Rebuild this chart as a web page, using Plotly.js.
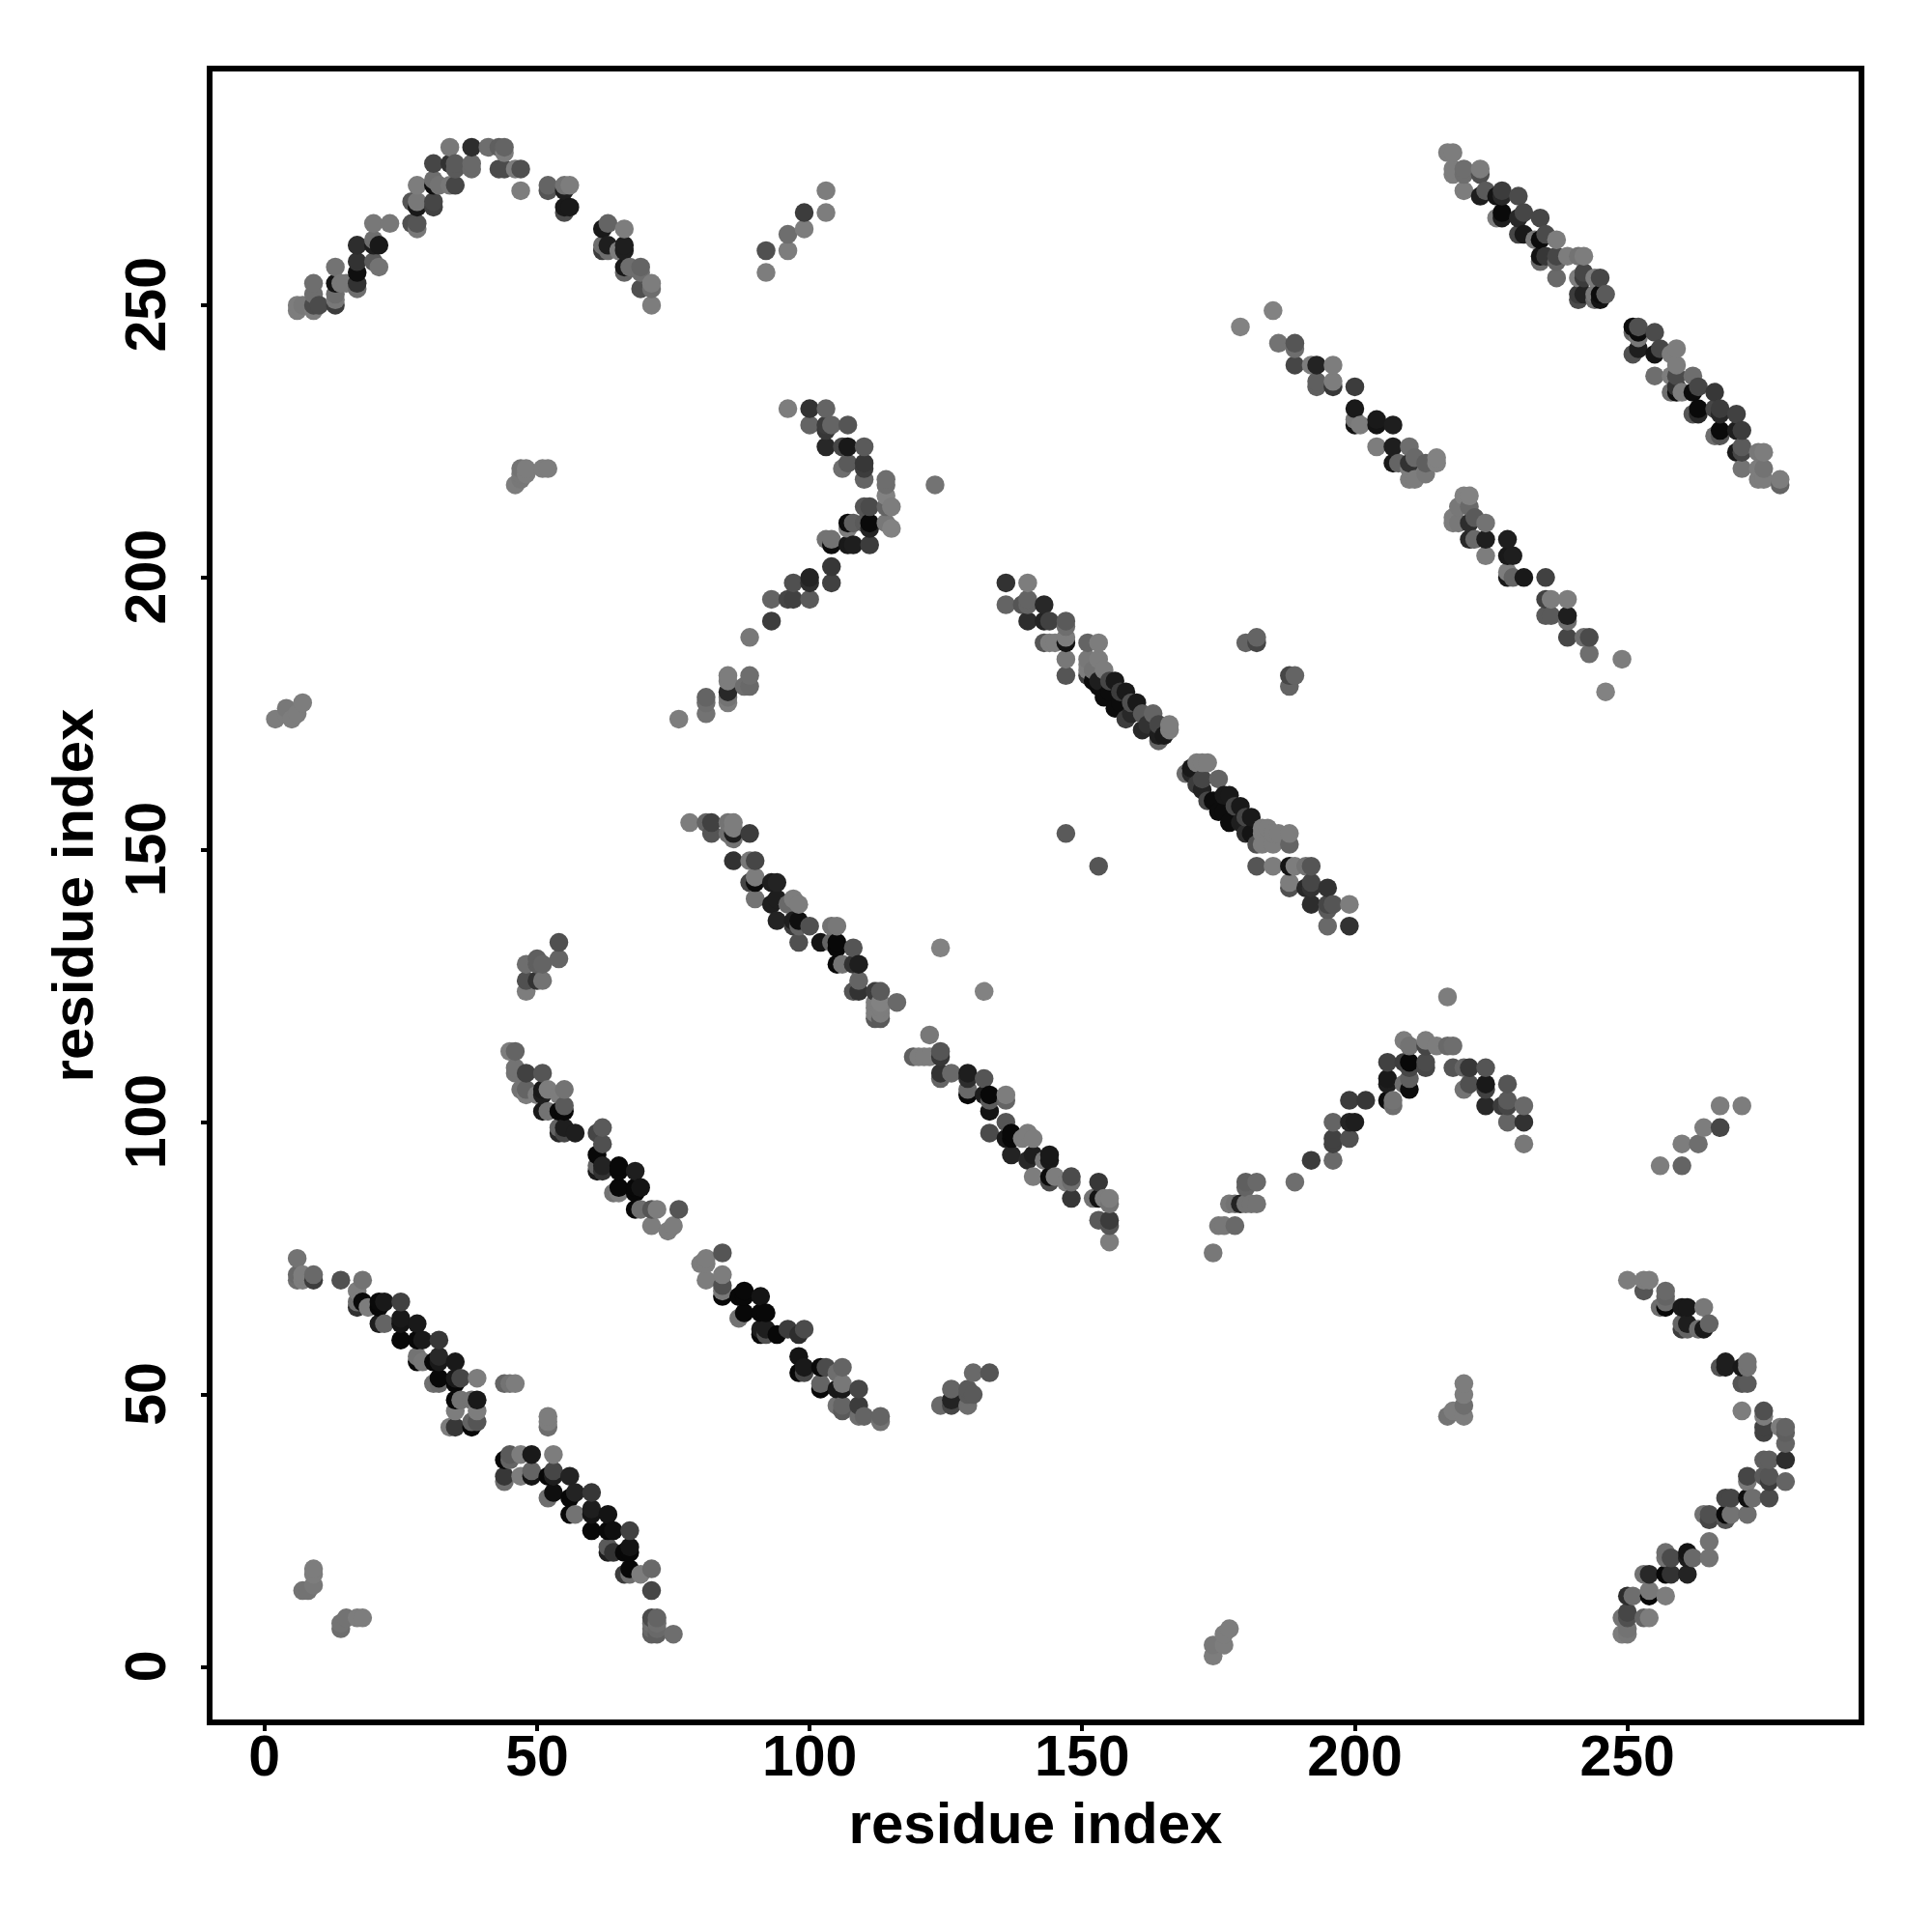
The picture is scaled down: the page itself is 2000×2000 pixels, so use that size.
<!DOCTYPE html>
<html><head><meta charset="utf-8">
<script src="https://cdn.plot.ly/plotly-3.0.1.min.js"></script>
<style>html,body{margin:0;padding:0;background:#fff}</style></head>
<body><div id="chart" style="width:2000px;height:2000px"></div>
<script>
const tickValues=[0,50,100,150,200,250];
const axisLabel="residue index";
// each entry: residue x, residue y, grey level
const archTopLeft=[[6,250,125],[6,249,125],[7,250,120],[9,254,110],[9,252,110],[9,249,125],[9,250,75],[10,250,75],[13,257,115],[13,254,20],[13,252,110],[13,250,60],[13,251,120],[14,254,120],[15,254,120],[17,254,50],[17,253,110],[17,256,15],[17,258,50],[17,261,45],[20,262,110],[21,261,25],[20,261,30],[20,265,120],[23,265,120],[20,258,90],[21,257,115],[27,265,80],[28,264,120],[28,265,85],[27,269,85],[28,269,120],[28,268,25],[31,269,70],[31,268,65],[28,272,125],[31,276,70],[31,273,110],[31,272,15],[32,272,115],[34,272,120],[35,272,70],[34,279,120],[34,276,50],[35,276,90],[35,275,90],[38,276,105],[38,275,105],[38,279,45],[41,279,110],[43,279,95],[44,279,100],[44,278,125],[43,275,75],[44,275,75],[46,275,125],[47,275,80],[47,271,125],[52,272,100],[52,271,85],[55,272,115],[56,272,125],[55,271,30],[55,268,25],[56,268,25],[55,267,75],[62,264,25],[63,265,100],[66,264,125],[62,261,110],[63,261,30],[62,260,60],[63,260,110],[66,261,30],[66,260,30],[65,260,125],[66,257,25],[66,256,100],[67,257,110],[69,257,100],[69,256,110],[69,253,80],[71,254,125],[71,253,110],[71,250,125]];
const bandTopRight=[[217,278,125],[218,278,125],[218,275,125],[218,274,125],[220,275,110],[220,274,110],[220,271,125],[223,275,125],[223,274,80],[223,270,30],[224,271,90],[226,270,20],[227,271,60],[227,270,40],[230,270,75],[226,266,125],[227,267,10],[227,266,30],[230,266,40],[231,267,70],[230,263,70],[231,263,25],[234,266,70],[235,263,75],[234,262,12],[233,262,120],[237,262,125],[234,259,20],[234,258,105],[235,259,55],[237,259,70],[237,258,100],[239,259,125],[241,259,115],[242,259,125],[237,255,105],[241,255,125],[242,256,70],[242,255,60],[244,255,125],[245,255,70],[241,252,60],[241,251,75],[242,252,35],[244,252,120],[244,251,110],[245,252,12],[245,251,20],[246,252,90],[251,246,12],[252,246,80],[251,245,100],[252,245,12],[252,244,120],[255,245,75],[251,241,80],[252,242,30],[255,241,20],[256,242,70],[258,241,125],[259,242,125],[259,239,125],[259,237,75],[255,237,110],[258,237,125],[262,237,110],[259,235,50],[259,234,12],[258,234,110],[260,234,125],[262,234,12],[263,235,70],[266,234,55],[262,230,85],[263,231,10],[263,230,40],[266,231,70],[267,231,60],[267,230,40],[270,230,65],[266,226,110],[267,227,10],[267,226,85],[270,227,30],[271,227,60],[270,223,25],[271,224,90],[271,223,70],[271,220,115],[274,223,120],[275,223,125],[274,220,125],[275,220,115],[274,218,125],[275,218,125],[278,218,125],[278,217,100]];
const bandUpperMid=[[179,246,130],[185,249,130],[186,243,115],[189,243,85],[189,242,110],[189,239,70],[192,239,125],[193,239,35],[196,239,125],[193,236,95],[193,235,95],[196,235,55],[196,236,125],[200,235,60],[200,231,25],[200,228,20],[200,229,120],[201,228,125],[204,229,25],[204,228,20],[207,228,30],[204,224,125],[207,224,30],[210,224,110],[207,221,25],[208,221,100],[210,221,50],[211,222,105],[210,220,125],[210,218,125],[211,218,125],[213,219,120],[213,221,95],[215,222,130],[215,221,130],[220,215,130],[221,215,130],[219,213,120],[221,213,105],[218,211,125],[218,210,125],[219,210,120],[221,210,45],[222,211,90],[224,210,115],[221,207,40],[222,207,105],[224,207,30],[224,204,125],[228,207,30],[228,204,25],[229,204,30],[228,201,125],[228,200,25],[229,200,100],[231,200,25],[235,200,65],[235,196,65],[236,196,125],[239,196,125],[235,193,90],[236,193,90],[239,192,110],[239,193,30],[239,189,70],[242,189,110],[243,189,75],[243,186,110],[249,185,125],[246,179,130],[180,188,100],[182,188,70],[182,189,100],[188,182,70],[189,182,100],[188,180,100]];
const armUpperLeft=[[96,231,125],[100,231,50],[103,231,100],[100,228,100],[103,228,60],[104,228,100],[107,228,85],[103,227,55],[103,224,40],[106,224,70],[107,224,25],[110,224,90],[106,220,110],[107,221,90],[110,221,55],[110,220,60],[110,218,100],[114,218,110],[114,217,110],[114,215,130],[115,213,125],[114,213,100],[110,213,85],[111,213,75],[107,210,12],[108,210,95],[107,209,125],[110,210,90],[111,210,10],[111,209,35],[114,210,120],[115,209,130],[103,207,115],[104,206,12],[104,207,115],[107,206,25],[108,206,30],[111,206,60],[104,202,55],[104,199,65],[100,200,35],[100,199,45],[97,199,80],[96,196,70],[97,196,65],[100,196,90],[93,196,100],[93,192,60],[89,189,120],[85,182,125],[85,181,125],[89,182,110],[89,180,105],[88,180,110],[85,179,40],[85,177,125],[85,178,115],[81,178,100],[81,177,110],[81,175,115],[76,174,125],[123,217,115]];
const bandCentre=[[136,199,50],[140,199,125],[136,195,100],[139,195,85],[140,196,100],[140,195,100],[143,195,40],[140,192,45],[143,192,35],[144,192,65],[147,192,90],[147,191,110],[143,188,85],[144,188,125],[145,188,125],[147,189,125],[147,188,20],[147,185,120],[147,182,85],[151,188,100],[153,188,125],[151,185,120],[153,185,125],[151,184,125],[151,183,125],[151,182,60],[152,183,115],[154,183,125],[156,181,25],[155,181,70],[153,181,30],[153,180,12],[154,178,12],[158,179,25],[157,179,60],[160,177,25],[156,176,12],[158,174,60],[159,177,80],[161,175,90],[163,175,100],[164,173,70],[161,172,40],[164,170,100],[165,171,25],[164,171,30],[166,173,125],[166,172,125],[155,179,12],[157,177,12],[159,175,40],[162,173,50],[152,181,12],[169,164,110],[170,165,25],[171,166,125],[172,166,125],[173,166,125],[170,164,40],[171,162,60],[173,159,70],[172,163,70],[175,163,100],[172,161,35],[175,157,12],[177,160,25],[176,160,25],[177,155,12],[179,158,25],[178,158,70],[180,153,45],[181,156,25],[180,156,70],[174,159,12],[176,157,12],[179,155,30],[181,153,20],[183,154,125],[183,153,125],[184,154,125],[185,153,125],[185,151,125],[183,151,125],[182,151,80],[186,153,125],[188,153,125],[188,151,100],[182,147,85],[185,147,125],[188,147,20],[189,147,125],[191,147,115],[192,147,85],[188,144,125],[188,143,80],[191,143,40],[192,144,70],[192,143,50],[195,143,50],[192,140,45],[195,140,70],[196,140,85],[195,139,90],[199,140,125],[195,136,105],[199,136,50],[147,153,90],[153,147,85]];
const bandLowerMid=[[78,155,125],[81,155,100],[82,155,65],[82,153,85],[85,155,115],[86,155,125],[86,154,125],[86,153,30],[86,152,115],[85,153,110],[89,153,60],[86,148,50],[89,148,120],[90,148,70],[90,145,125],[89,144,70],[90,144,12],[90,141,115],[93,144,30],[94,144,35],[94,141,30],[93,140,30],[94,137,35],[97,141,125],[98,140,125],[96,140,105],[97,137,30],[97,136,60],[98,137,15],[98,136,100],[100,136,80],[98,133,80],[102,133,20],[104,136,115],[105,136,120],[104,133,100],[105,133,8],[105,132,8],[108,132,85],[105,129,8],[106,129,115],[108,129,50],[109,129,30],[109,126,100],[108,124,85],[109,124,50],[112,124,60],[113,124,90],[112,122,125],[113,122,130],[112,121,125],[113,121,125],[112,120,125],[113,120,125],[112,119,90],[113,119,90],[116,122,105],[124,132,130],[132,124,130],[122,116,120],[119,112,95],[120,112,125],[121,112,125],[122,112,125],[124,113,85],[124,112,55],[124,109,50],[124,108,100],[126,109,105],[129,109,30],[129,108,45],[132,108,85],[129,105,8],[129,106,105],[132,105,30],[133,105,8],[133,104,90],[133,102,20],[136,105,125],[136,104,100],[133,98,75],[136,100,85],[136,97,25],[137,98,8],[137,97,8],[139,97,125],[140,98,125],[141,97,125],[137,94,35],[140,93,40],[141,94,30],[144,94,25],[144,93,25],[143,93,120],[141,90,125],[144,90,12],[144,89,75],[145,90,125],[147,89,125],[148,90,75],[148,89,110],[148,86,55],[153,89,55],[152,86,115],[153,86,20],[155,86,125],[154,86,125],[155,85,115],[153,82,90],[155,82,60],[155,81,85],[155,78,125]];
const bandLeftMid=[[54,133,80],[54,130,100],[48,129,110],[50,130,95],[50,129,95],[51,129,100],[48,126,80],[50,126,50],[51,126,115],[48,124,125],[45,113,125],[46,113,100],[46,110,115],[46,109,115],[48,109,65],[51,109,85],[47,106,115],[48,106,100],[48,105,125],[50,105,125],[51,106,25],[51,105,30],[52,106,125],[51,102,25],[52,102,115],[54,105,125],[55,106,115],[54,102,8],[55,102,8],[55,103,90],[54,99,100],[54,98,40],[55,99,30],[55,98,70],[57,98,30],[61,98,70],[62,99,90],[62,96,80],[61,94,8],[61,91,25],[61,92,100],[62,92,35],[62,91,50],[65,92,8],[65,91,8],[68,91,30],[64,87,115],[65,87,125],[65,88,8],[68,88,8],[69,88,20],[68,87,8],[68,84,8],[69,84,110],[71,84,85],[72,84,125],[76,84,85],[71,81,125],[74,80,125],[75,81,125]];
const bandBottomLeft=[[6,75,115],[6,72,105],[6,71,110],[7,72,125],[7,71,125],[9,72,105],[9,71,60],[14,71,80],[18,71,115],[17,69,125],[17,67,110],[17,66,50],[18,67,10],[19,66,125],[21,67,10],[22,67,25],[21,66,8],[25,67,65],[21,63,30],[22,63,100],[25,64,25],[25,63,20],[28,63,25],[25,60,8],[28,60,8],[29,60,25],[32,60,55],[28,57,115],[28,56,8],[29,56,120],[31,56,8],[32,57,40],[32,56,25],[35,56,25],[31,52,110],[32,53,8],[32,52,105],[35,53,25],[35,52,8],[36,53,70],[39,53,125],[35,49,8],[36,49,115],[39,49,25],[38,49,115],[35,47,125],[39,47,125],[34,44,125],[35,44,55],[38,44,8],[38,45,100],[39,45,85],[44,52,100],[45,52,115],[46,52,125],[52,46,125],[52,45,125],[52,44,110],[44,38,8],[45,39,90],[45,38,100],[47,39,125],[49,39,25],[53,39,125],[44,35,55],[44,34,110],[47,35,125],[49,35,20],[49,36,100],[52,35,8],[53,36,70],[53,35,30],[56,35,35],[52,31,110],[53,32,15],[56,31,8],[57,32,35],[60,32,55],[56,28,8],[57,28,115],[60,29,30],[60,28,20],[63,28,20],[60,25,8],[63,25,8],[64,25,15],[67,25,65],[63,22,90],[63,21,30],[64,21,50],[67,22,20],[66,21,8],[67,21,8],[66,17,60],[67,18,8],[67,17,110],[69,17,125],[71,18,105],[71,14,70],[71,9,75],[72,9,100],[71,8,110],[72,8,110],[71,7,105],[72,7,105],[71,6,95],[72,6,95],[75,6,110],[9,18,125],[9,17,125],[9,15,120],[7,14,115],[8,14,115],[15,9,115],[14,8,115],[14,7,110],[17,9,125],[18,9,125]];
const bandBottomMid=[[84,76,85],[80,74,125],[81,75,125],[81,74,125],[81,71,125],[84,72,125],[84,70,80],[84,69,120],[84,68,8],[87,68,8],[88,69,8],[88,68,8],[91,68,20],[87,64,115],[88,65,8],[91,65,8],[92,65,8],[91,62,30],[91,61,8],[92,62,30],[92,61,80],[94,61,8],[96,62,60],[98,61,45],[99,62,75],[98,57,20],[98,54,8],[99,55,25],[99,54,70],[102,55,10],[102,52,100],[102,51,8],[103,55,75],[106,55,100],[105,54,110],[105,51,25],[106,52,120],[106,51,25],[109,51,70],[105,48,115],[106,47,90],[106,48,100],[109,48,60],[109,46,110],[110,46,100],[113,46,100],[113,45,115],[124,48,105],[126,51,100],[126,49,35],[126,48,70],[129,51,90],[129,50,90],[130,50,90],[129,48,110],[130,54,105],[133,54,85]];
const archMidRight=[[174,76,120],[175,81,120],[176,81,120],[178,81,105],[177,85,120],[178,85,115],[179,85,35],[180,85,115],[181,85,115],[182,85,115],[180,89,95],[180,88,100],[182,89,105],[189,89,110],[192,93,60],[196,93,105],[196,96,65],[196,97,65],[196,100,100],[199,97,80],[199,100,35],[200,100,30],[199,104,60],[202,104,55],[206,104,12],[207,104,115],[207,103,110],[206,108,25],[206,107,30],[206,111,65],[209,111,60],[210,111,8],[210,110,70],[213,111,75],[213,110,70],[209,107,110],[210,106,12],[210,108,95],[209,115,125],[210,114,115],[213,115,125],[213,114,70],[215,114,125],[217,114,105],[218,114,110],[218,110,85],[220,110,100],[221,110,55],[224,110,85],[220,106,115],[221,107,80],[224,107,25],[224,106,65],[224,103,40],[227,103,60],[228,104,90],[228,103,70],[228,107,85],[231,103,105],[228,100,100],[231,100,50],[231,96,120]];
const archBottomRight=[[250,71,125],[253,69,85],[253,71,125],[254,71,125],[256,66,110],[257,69,105],[257,68,100],[257,66,8],[257,67,110],[260,66,25],[261,66,25],[264,66,120],[260,62,60],[260,63,100],[261,63,30],[261,62,100],[263,62,110],[264,62,25],[265,63,100],[267,55,85],[268,56,30],[268,55,30],[271,55,25],[272,56,115],[272,55,115],[271,52,85],[272,52,90],[271,47,125],[275,47,80],[275,46,125],[275,44,65],[275,43,65],[278,44,125],[279,44,100],[279,43,95],[279,41,100],[275,38,95],[276,38,95],[279,38,45],[272,35,70],[272,34,120],[275,35,90],[276,35,85],[276,34,60],[279,34,100],[268,31,70],[269,31,70],[272,31,15],[273,31,110],[276,31,75],[264,28,115],[265,28,80],[265,27,70],[268,28,8],[268,27,85],[269,28,115],[272,28,110],[265,23,115],[265,20,115],[257,21,110],[257,20,115],[258,20,75],[261,21,20],[261,20,30],[262,20,105],[253,17,115],[254,17,40],[257,17,8],[258,17,50],[261,17,35],[250,13,45],[251,13,110],[254,14,120],[254,13,8],[257,13,125],[249,9,115],[250,10,70],[250,9,80],[253,9,100],[254,9,125],[249,6,125],[250,7,115],[250,6,120]];
const smallClusters=[[46,217,125],[47,218,120],[47,219,120],[47,220,115],[48,219,125],[48,220,125],[51,220,125],[52,220,125],[2,174,125],[4,175,125],[4,176,120],[5,174,125],[6,175,125],[7,177,125],[174,2,125],[174,4,120],[176,4,125],[176,6,125],[177,7,125],[220,52,125],[220,50,125],[220,48,110],[218,47,125],[217,46,115],[220,46,125],[92,256,125],[92,260,80],[96,260,125],[96,263,110],[99,264,125],[99,267,60],[103,267,125],[103,271,125],[217,123,125],[256,92,125],[260,92,100],[260,96,125],[263,96,110],[264,99,125],[267,99,70],[267,103,125],[271,103,125]];

const points=[].concat(archTopLeft,bandTopRight,bandUpperMid,armUpperLeft,bandCentre,bandLowerMid,bandLeftMid,bandBottomLeft,bandBottomMid,archMidRight,archBottomRight,smallClusters)
  .sort((a,b)=>a[0]-b[0]||a[1]-b[1]);

const tickFont={family:'"Liberation Sans",Arial,sans-serif',size:59,color:'#000',weight:700};
const titleFont={family:'"Liberation Sans",Arial,sans-serif',size:60,color:'#000',weight:700};
const axisBase={tickmode:'array',tickvals:tickValues,ticks:'outside',ticklen:6,tickwidth:4,tickcolor:'#000',
  showline:true,mirror:true,linewidth:6,linecolor:'#000',showgrid:false,zeroline:false,tickfont:tickFont};
Plotly.newPlot('chart',[{type:'scatter',mode:'markers',
  x:points.map(p=>p[0]),y:points.map(p=>p[1]),
  marker:{size:19.5,color:points.map(p=>`rgb(${p[2]},${p[2]},${p[2]})`),line:{width:0}},hoverinfo:'skip'}],
 {width:2000,height:2000,margin:{l:219.5,r:76,t:74,b:219.5,pad:0},paper_bgcolor:'#fff',plot_bgcolor:'#fff',showlegend:false,
  xaxis:{...axisBase,ticktext:tickValues.map(String),ticklabelstandoff:-25,range:[-9.53,292.4],title:{text:axisLabel,font:titleFont,standoff:18}},
  yaxis:{...axisBase,ticktext:tickValues.map(v=>v+'\u00A0'),ticklabelstandoff:13,range:[-9.66,292.9],tickangle:-90,title:{text:axisLabel,font:titleFont,standoff:4}}},
 {staticPlot:true,displayModeBar:false});
</script></body></html>
